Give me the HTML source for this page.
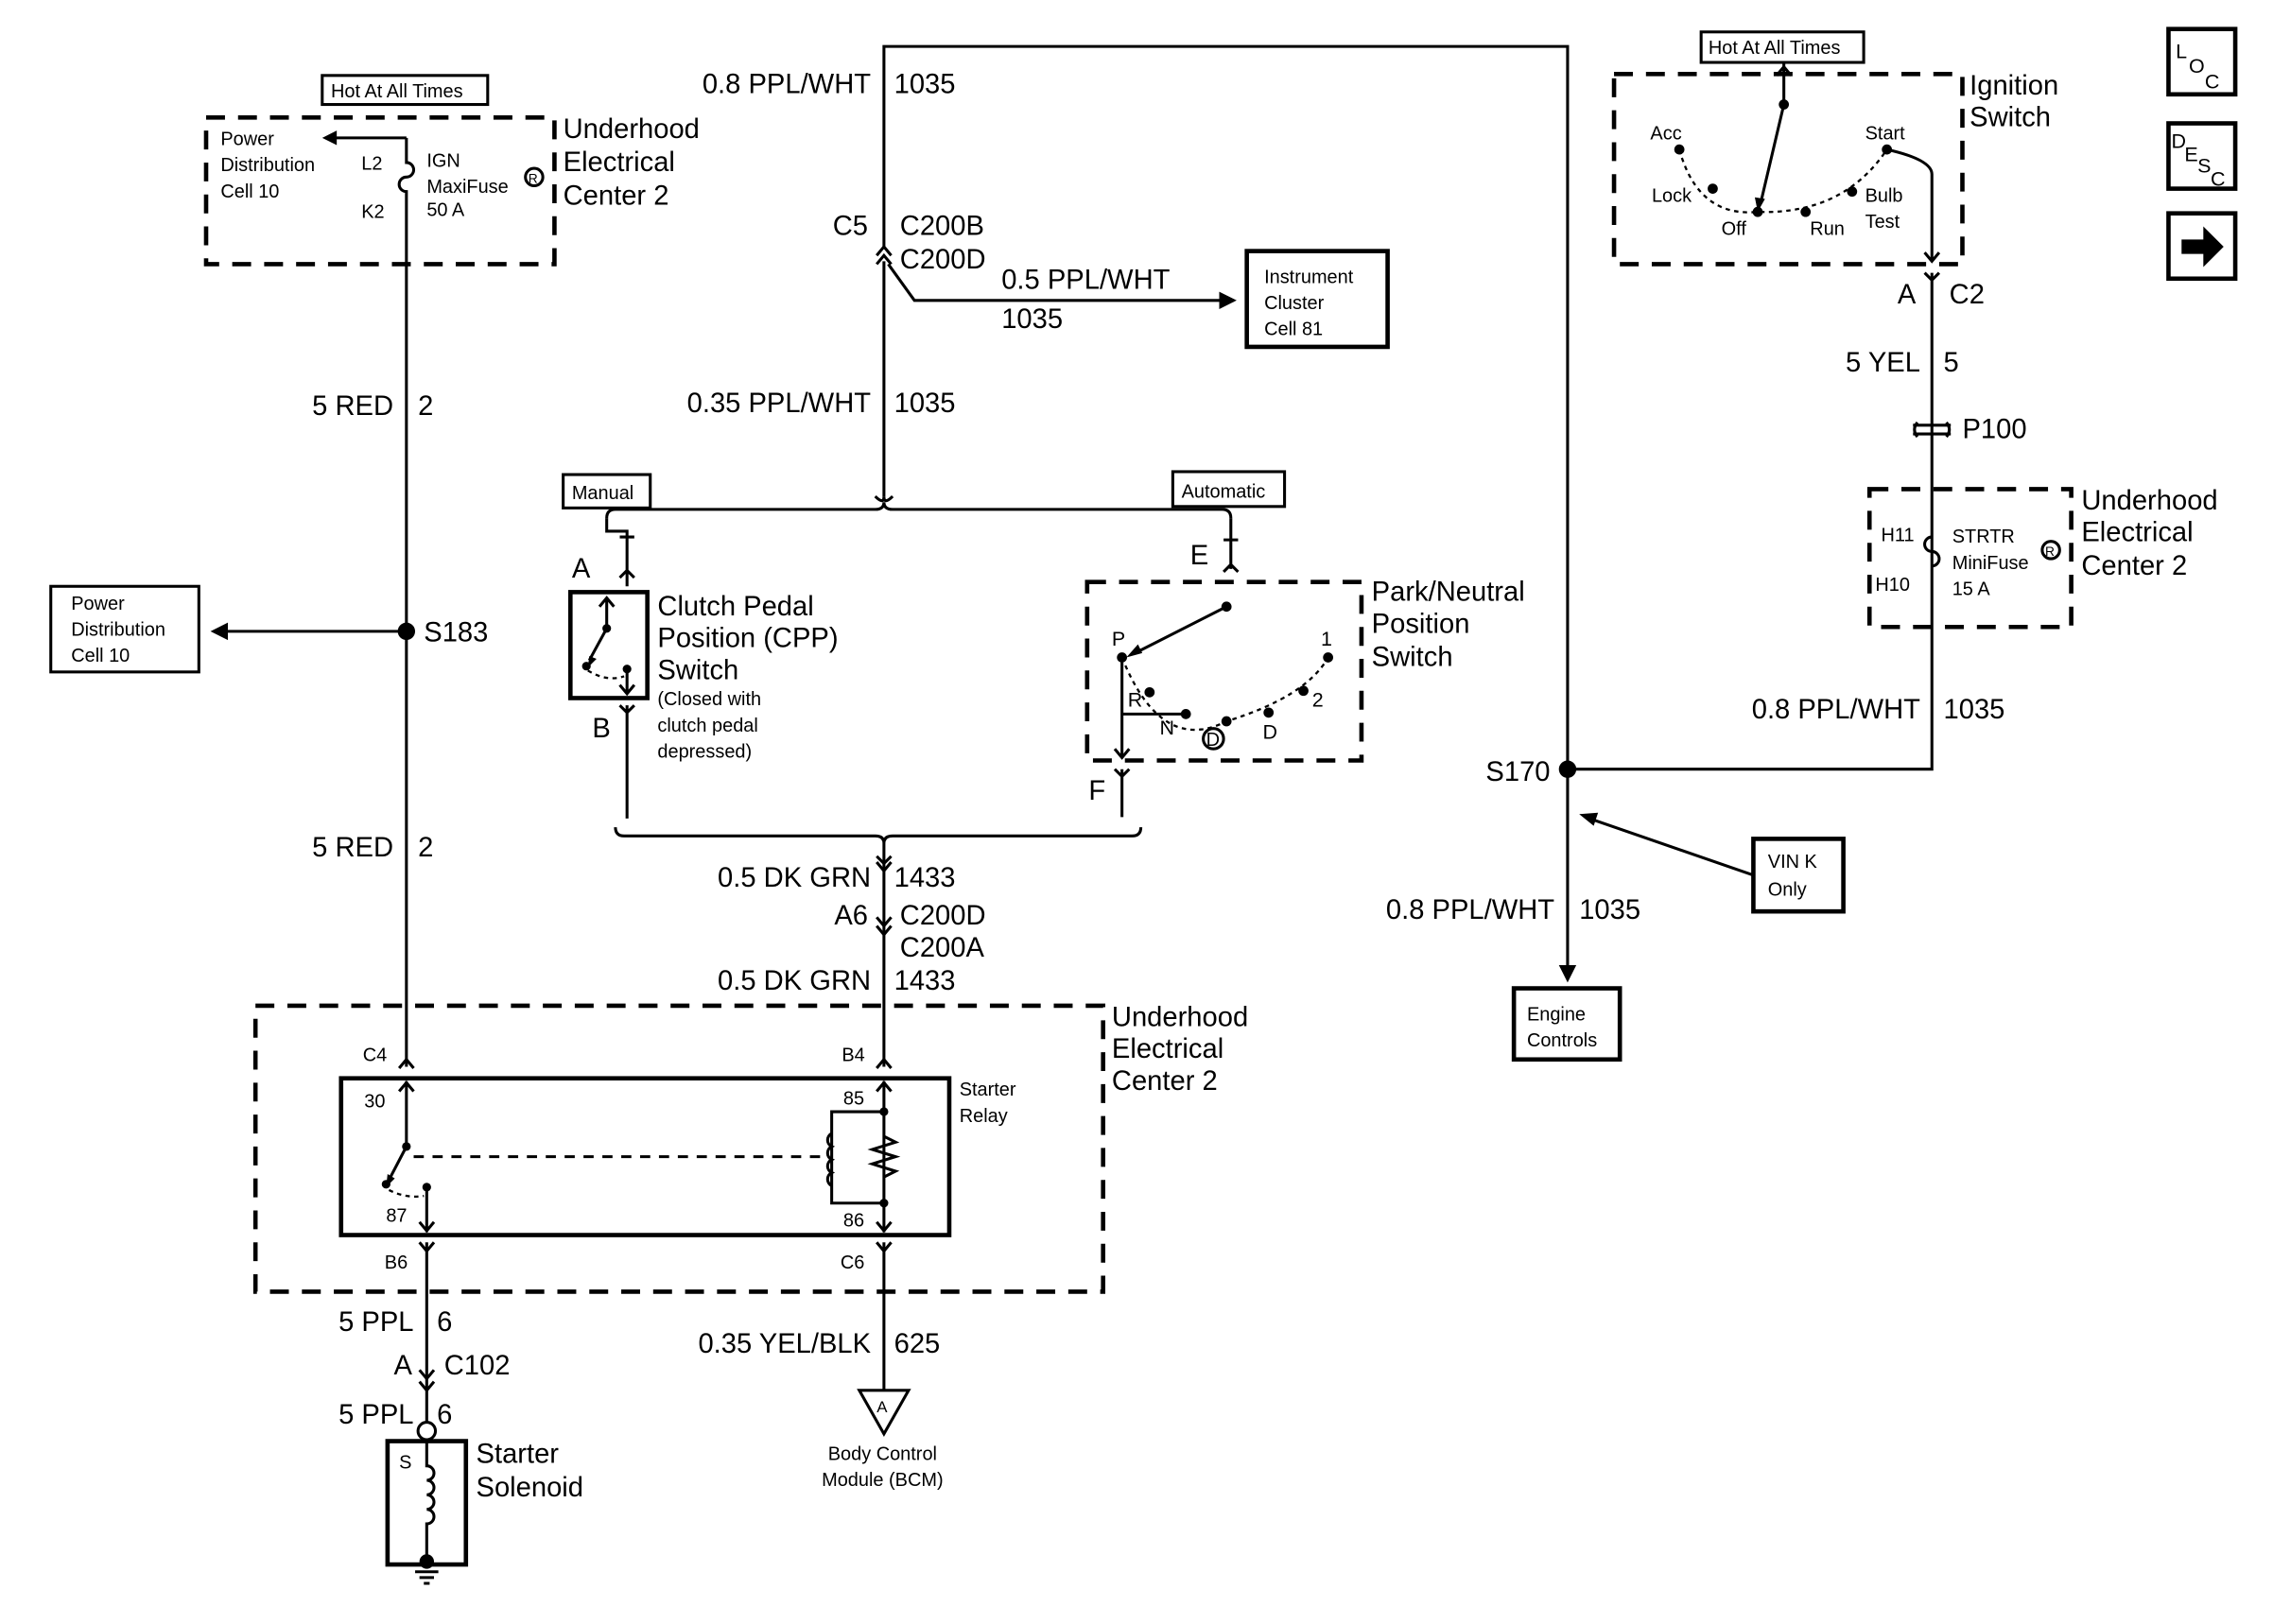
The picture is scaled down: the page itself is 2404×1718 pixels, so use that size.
<!DOCTYPE html>
<html><head><meta charset="utf-8"><style>
html,body{margin:0;padding:0;background:#fff;}
svg{display:block}
text{font-family:"Liberation Sans",Arial,sans-serif;fill:#000}
.w{stroke:#000;stroke-width:2;fill:none}
.b{stroke:#000;stroke-width:3;fill:none}
.d{stroke:#000;stroke-width:3;fill:none;stroke-dasharray:13,9}
.dt{stroke:#000;stroke-width:1.5;fill:none;stroke-dasharray:3,3}
.L{font-size:19px}
.M{font-size:14px}
.S{font-size:13px}
</style></head><body>
<svg width="2404" height="1718" viewBox="0 0 1566 1119" preserveAspectRatio="none" xmlns="http://www.w3.org/2000/svg">
<rect width="1566" height="1119" fill="#fff"/>
<!-- top right icons -->
<rect x="1494" y="20" width="46" height="45" class="b"/>
<text x="1499" y="40" class="M">L</text><text x="1508" y="50" class="M">O</text><text x="1519" y="61" class="M">C</text>
<rect x="1494" y="85" width="46" height="45" class="b"/>
<text x="1496" y="102" class="M">D</text><text x="1505" y="111" class="M">E</text><text x="1514" y="119" class="M">S</text><text x="1523" y="128" class="M">C</text>
<rect x="1494" y="147" width="46" height="45" class="b"/>
<path d="M1503 165h15v-9l14 14l-14 14v-9h-15z" fill="#000"/>

<!-- LEFT: top underhood -->
<rect x="222" y="52" width="114" height="20" class="w"/>
<text x="228" y="67" class="S">Hot At All Times</text>
<rect x="142" y="81" width="240" height="101" class="d"/>
<text x="152" y="100" class="S">Power</text><text x="152" y="118" class="S">Distribution</text><text x="152" y="136" class="S">Cell 10</text>
<path d="M280 95H228" class="w"/><path d="M222 95l10-5v10z" fill="#000"/>
<text x="249" y="117" class="S">L2</text><text x="249" y="150" class="S">K2</text>
<text x="294" y="115" class="S">IGN</text><text x="294" y="133" class="S">MaxiFuse</text><text x="294" y="149" class="S">50 A</text>
<circle cx="368" cy="122" r="6" class="w" stroke-width="1.2"/><text x="364" y="126" font-size="9">R</text>
<text x="388" y="95" class="L">Underhood</text><text x="388" y="118" class="L">Electrical</text><text x="388" y="141" class="L">Center 2</text>
<path d="M280 95V112a5 5 0 0 1 0 10a5 5 0 0 0 0 10V735" class="w"/>
<text x="271" y="286" class="L" text-anchor="end">5 RED</text><text x="288" y="286" class="L">2</text>
<circle cx="280" cy="435" r="6" fill="#000"/>
<path d="M280 435H155" class="w"/><path d="M145 435l12-6v12z" fill="#000"/>
<text x="292" y="442" class="L">S183</text>
<rect x="35" y="404" width="102" height="59" class="w"/>
<text x="49" y="420" class="S">Power</text><text x="49" y="438" class="S">Distribution</text><text x="49" y="456" class="S">Cell 10</text>
<text x="271" y="590" class="L" text-anchor="end">5 RED</text><text x="288" y="590" class="L">2</text>

<!-- relay -->
<rect x="176" y="693" width="584" height="197" class="d"/>
<text x="766" y="707" class="L">Underhood</text><text x="766" y="729" class="L">Electrical</text><text x="766" y="751" class="L">Center 2</text>
<text x="250" y="731" class="S">C4</text><text x="580" y="731" class="S">B4</text>
<path d="M275 736l5-6l5 6M604 736l5-6l5 6" class="w"/>
<rect x="235" y="743" width="419" height="108" class="b"/>
<text x="661" y="755" class="S">Starter</text><text x="661" y="773" class="S">Relay</text>
<path d="M280 745V790M275 752l5-6l5 6" class="w"/>
<text x="251" y="763" class="S">30</text>
<circle cx="280" cy="790" r="3" fill="#000"/><circle cx="266" cy="816" r="3" fill="#000"/><circle cx="294" cy="818" r="3" fill="#000"/>
<path d="M280 790L268 813" class="w"/><path d="M266 818l1-9l5 3z" fill="#000"/>
<path d="M268 820Q280 826 292 824" class="dt"/>
<path d="M294 818V849M289 842l5 6l5-6" class="w"/>
<text x="266" y="842" class="S">87</text>
<path d="M285 797H565" class="w" stroke-dasharray="7,6"/>
<path d="M609 745V849M604 752l5-6l5 6M604 842l5 6l5-6" class="w"/>
<text x="581" y="761" class="S">85</text><text x="581" y="845" class="S">86</text>
<circle cx="609" cy="766" r="3" fill="#000"/><circle cx="609" cy="829" r="3" fill="#000"/>
<path d="M609 766H573V829H609" class="w"/>
<path d="M573 781a5 5 0 0 0 0 9a5 5 0 0 0 0 9a5 5 0 0 0 0 9a5 5 0 0 0 0 9" class="w"/>
<path d="M609 783l8 4l-16 5l16 5l-16 5l16 5l-8 4" class="w" fill="#fff"/>
<text x="265" y="874" class="S">B6</text><text x="579" y="874" class="S">C6</text>
<path d="M289 856l5 6l5-6M604 856l5 6l5-6" class="w"/>
<path d="M294 856V980" class="w"/>
<text x="285" y="917" class="L" text-anchor="end">5 PPL</text><text x="301" y="917" class="L">6</text>
<text x="284" y="947" class="L" text-anchor="end">A</text><text x="306" y="947" class="L">C102</text>
<path d="M289 944l5 6l5-6M289 952l5 6l5-6" class="w"/>
<text x="285" y="981" class="L" text-anchor="end">5 PPL</text><text x="301" y="981" class="L">6</text>
<circle cx="294" cy="986" r="6" fill="#fff" class="w"/>
<rect x="267" y="993" width="54" height="85" class="b"/>
<text x="275" y="1012" class="S">S</text>
<path d="M294 992V1010a5 5 0 0 1 0 10a5 5 0 0 1 0 10a5 5 0 0 1 0 10a5 5 0 0 1 0 10V1078" class="w"/>
<circle cx="294" cy="1076" r="5" fill="#000"/>
<path d="M286 1083h16M289 1087h10M292 1091h4" class="w"/>
<text x="328" y="1008" class="L">Starter</text><text x="328" y="1031" class="L">Solenoid</text>
<path d="M609 856V958" class="w"/>
<text x="600" y="932" class="L" text-anchor="end">0.35 YEL/BLK</text><text x="616" y="932" class="L">625</text>
<path d="M592 958H626L609 988z" class="w"/><text x="604" y="973" font-size="11">A</text>
<text x="608" y="1006" class="S" text-anchor="middle">Body Control</text><text x="608" y="1024" class="S" text-anchor="middle">Module (BCM)</text>

<!-- center -->
<path d="M609 170V32H1080V665" class="w"/>
<text x="600" y="64" class="L" text-anchor="end">0.8 PPL/WHT</text><text x="616" y="64" class="L">1035</text>
<text x="598" y="162" class="L" text-anchor="end">C5</text><text x="620" y="162" class="L">C200B</text><text x="620" y="185" class="L">C200D</text>
<path d="M604 176l5-6l5 6M604 182l5-6l5 6" class="w"/>
<path d="M609 180V342M612 182L630 207H850" class="w"/><path d="M852 207l-12-6v12z" fill="#000"/>
<text x="690" y="199" class="L">0.5 PPL/WHT</text><text x="690" y="226" class="L">1035</text>
<rect x="859" y="173" width="97" height="66" class="b"/>
<text x="871" y="195" class="S">Instrument</text><text x="871" y="213" class="S">Cluster</text><text x="871" y="231" class="S">Cell 81</text>
<text x="600" y="284" class="L" text-anchor="end">0.35 PPL/WHT</text><text x="616" y="284" class="L">1035</text>
<path d="M603 342q6 6 6 0q0 6 6 0" class="w"/>
<path d="M418 357q0-6 6-6H603q6 0 6-5q0 5 6 5H842q6 0 6 6" class="w"/>
<rect x="388" y="327" width="60" height="23" class="w"/><text x="394" y="344" class="S">Manual</text>
<rect x="808" y="325" width="77" height="24" class="w"/><text x="814" y="343" class="S">Automatic</text>
<!-- CPP -->
<path d="M418 357V366h14v38M427 370h10M427 398l5-5l5 5" class="w"/>
<text x="394" y="398" class="L">A</text>
<rect x="393" y="408" width="53" height="73" class="b"/>
<path d="M418 412V432M413 418l5-6l5 6" class="w"/>
<circle cx="418" cy="433" r="3" fill="#000"/><circle cx="404" cy="459" r="3" fill="#000"/><circle cx="432" cy="461" r="3" fill="#000"/>
<path d="M418 433L406 455" class="w"/><path d="M405 460l1-8l5 2z" fill="#000"/>
<path d="M405 462Q418 470 430 466" class="dt"/>
<path d="M432 461V478M427 472l5 6l5-6" class="w"/>
<text x="453" y="424" class="L">Clutch Pedal</text><text x="453" y="446" class="L">Position (CPP)</text><text x="453" y="468" class="L">Switch</text>
<text x="453" y="486" class="S">(Closed with</text><text x="453" y="504" class="S">clutch pedal</text><text x="453" y="522" class="S">depressed)</text>
<path d="M427 486l5 5l5-5M432 486V564" class="w"/>
<text x="408" y="508" class="L">B</text>
<!-- PNP -->
<path d="M848 357V366h0v26M843 372h10M843 394l5-5l5 5" class="w"/>
<text x="820" y="389" class="L">E</text>
<rect x="749" y="401" width="189" height="123" class="d"/>
<text x="945" y="414" class="L">Park/Neutral</text><text x="945" y="436" class="L">Position</text><text x="945" y="459" class="L">Switch</text>
<circle cx="845" cy="418" r="3.5" fill="#000"/>
<path d="M845 418L782 450" class="w"/><path d="M776 453l8-9l3 6z" fill="#000"/>
<text x="766" y="445" class="M">P</text><text x="910" y="445" class="M">1</text><text x="904" y="487" class="M">2</text>
<text x="777" y="487" class="M">R</text><text x="799" y="506" class="M">N</text><text x="870" y="509" class="M">D</text>
<circle cx="836" cy="509" r="7" class="w" stroke-width="1.3"/><text x="831" y="514" class="S">D</text>
<path d="M773 453Q800 520 845 497Q900 480 915 453" class="dt"/>
<circle cx="773" cy="453" r="3.5" fill="#000"/><circle cx="792" cy="477" r="3.5" fill="#000"/><circle cx="817" cy="492" r="3.5" fill="#000"/>
<circle cx="845" cy="497" r="3.5" fill="#000"/><circle cx="874" cy="491" r="3.5" fill="#000"/><circle cx="898" cy="476" r="3.5" fill="#000"/><circle cx="915" cy="453" r="3.5" fill="#000"/>
<path d="M773 453V522M773 492H817M768 516l5 6l5-6" class="w"/>
<path d="M768 530l5 5l5-5M773 530V563" class="w"/>
<text x="750" y="551" class="L">F</text>
<path d="M424 570q0 6 6 6H603q6 0 6 5q0-5 6-5H780q6 0 6-6" class="w"/>
<path d="M609 581V735" class="w"/>
<path d="M604 590l5 5l5-5M604 594l5 6l5-6" class="w"/>
<text x="600" y="611" class="L" text-anchor="end">0.5 DK GRN</text><text x="616" y="611" class="L">1433</text>
<text x="598" y="637" class="L" text-anchor="end">A6</text><text x="620" y="637" class="L">C200D</text><text x="620" y="659" class="L">C200A</text>
<path d="M604 632l5 6l5-6M604 638l5 6l5-6" class="w"/>
<text x="600" y="682" class="L" text-anchor="end">0.5 DK GRN</text><text x="616" y="682" class="L">1433</text>

<!-- right -->
<rect x="1172" y="22" width="112" height="21" class="w"/><text x="1177" y="37" class="S">Hot At All Times</text>
<rect x="1112" y="51" width="240" height="131" class="d"/>
<text x="1357" y="65" class="L">Ignition</text><text x="1357" y="87" class="L">Switch</text>
<text x="1137" y="96" class="S">Acc</text><text x="1285" y="96" class="S">Start</text>
<text x="1138" y="139" class="S">Lock</text><text x="1285" y="139" class="S">Bulb</text><text x="1285" y="157" class="S">Test</text>
<text x="1186" y="162" class="S">Off</text><text x="1247" y="162" class="S">Run</text>
<path d="M1229 43V72M1224 52l5-6l5 6" class="w"/>
<circle cx="1229" cy="72" r="3.5" fill="#000"/>
<path d="M1229 72L1213 140" class="w"/><path d="M1211 146l-2-10l7 1z" fill="#000"/>
<path d="M1157 103Q1170 150 1211 146Q1270 148 1300 103" class="dt"/>
<circle cx="1157" cy="103" r="3.5" fill="#000"/><circle cx="1180" cy="130" r="3.5" fill="#000"/><circle cx="1211" cy="146" r="3.5" fill="#000"/>
<circle cx="1244" cy="146" r="3.5" fill="#000"/><circle cx="1276" cy="132" r="3.5" fill="#000"/><circle cx="1300" cy="103" r="3.5" fill="#000"/>
<path d="M1300 103Q1331 110 1331 120V180M1326 174l5 6l5-6" class="w"/>
<path d="M1326 188l5 5l5-5M1331 188V530H1080" class="w"/>
<text x="1320" y="209" class="L" text-anchor="end">A</text><text x="1343" y="209" class="L">C2</text>
<text x="1323" y="256" class="L" text-anchor="end">5 YEL</text><text x="1339" y="256" class="L">5</text>
<path d="M1318 293h26M1318 299h26M1321 291q-4 5 0 10M1341 291q4 5 0 10" class="w"/>
<text x="1352" y="302" class="L">P100</text>
<rect x="1288" y="337" width="139" height="95" class="d"/>
<text x="1434" y="351" class="L">Underhood</text><text x="1434" y="373" class="L">Electrical</text><text x="1434" y="396" class="L">Center 2</text>
<text x="1296" y="373" class="S">H11</text><text x="1292" y="407" class="S">H10</text>
<text x="1345" y="374" class="S">STRTR</text><text x="1345" y="392" class="S">MiniFuse</text><text x="1345" y="410" class="S">15 A</text>
<circle cx="1413" cy="379" r="6" class="w" stroke-width="1.2"/><text x="1409" y="383" font-size="9">R</text>
<path d="M1331 370a5 5 0 0 0 0 10a5 5 0 0 1 0 10" class="w" fill="#fff"/>
<text x="1323" y="495" class="L" text-anchor="end">0.8 PPL/WHT</text><text x="1339" y="495" class="L">1035</text>
<circle cx="1080" cy="530" r="6" fill="#000"/>
<text x="1068" y="538" class="L" text-anchor="end">S170</text>
<rect x="1208" y="578" width="62" height="50" class="b"/>
<text x="1218" y="598" class="S">VIN K</text><text x="1218" y="617" class="S">Only</text>
<path d="M1208 603L1098 565" class="w"/><path d="M1088 561l13-1l-3 9z" fill="#000"/>
<text x="1071" y="633" class="L" text-anchor="end">0.8 PPL/WHT</text><text x="1088" y="633" class="L">1035</text>
<path d="M1080 677l-6-12h12z" fill="#000"/>
<rect x="1043" y="681" width="73" height="49" class="b"/>
<text x="1052" y="703" class="S">Engine</text><text x="1052" y="721" class="S">Controls</text>
</svg>
</body></html>
